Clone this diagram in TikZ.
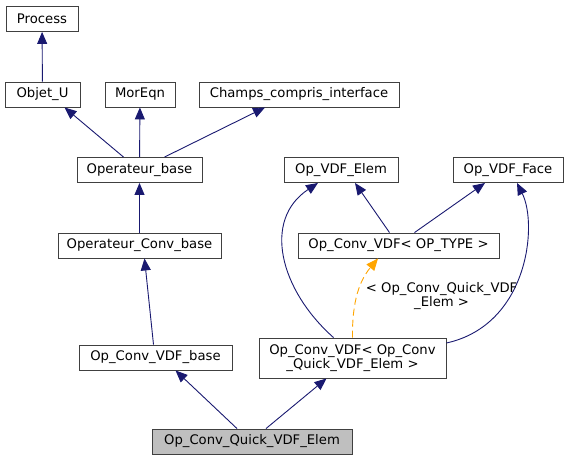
\documentclass[tikz,border=0pt]{standalone}
\usepackage{fontspec}
\setmainfont{DejaVu Sans}
\usetikzlibrary{arrows.meta}
\definecolor{navy}{HTML}{191970}
\definecolor{tplorange}{HTML}{FFA500}

\begin{document}
\begin{tikzpicture}[x=1pt, y=-1pt,
  cls/.style={draw=black!75, line width=0.9pt, fill=white, minimum height=25pt, inner sep=2pt,
    font=\fontsize{13.2}{14}\selectfont},
  tip/.style={-{Triangle[length=12pt,width=10pt]}},
  inh/.style={draw=navy, line width=0.9pt},
  tpl/.style={draw=tplorange, line width=0.9pt, dash pattern=on 7pt off 4pt}]
  \useasboundingbox (0,0) rectangle (569,460);
  \node[cls, minimum width=72pt]  (proc)   at (42,19)     {Process};
  \node[cls, minimum width=75pt]  (obj)    at (42.5,94.5) {Objet\_U};
  \node[cls, minimum width=70pt]  (mor)    at (140,94.5)  {MorEqn};
  \node[cls, minimum width=200pt] (champs) at (299,94.5)  {Champs\_compris\_interface};
  \node[cls, minimum width=125pt] (opb)    at (139.5,170) {Operateur\_base};
  \node[cls, minimum width=114pt] (velem)  at (341,170)   {Op\_VDF\_Elem};
  \node[cls, minimum width=110pt] (vface)  at (508,170)   {Op\_VDF\_Face};
  \node[cls, minimum width=163pt] (opc)    at (139.5,245.5) {Operateur\_Conv\_base};
  \node[cls, minimum width=201pt] (vtype)  at (398.5,245.5) {Op\_Conv\_VDF< OP\_TYPE >};
  \node[cls, minimum width=187pt, minimum height=40pt, align=center] (vq) at (352.5,358)
    {Op\_Conv\_VDF< Op\_Conv\\\_Quick\_VDF\_Elem >};
  \node[cls, minimum width=153pt] (vbase)  at (155.5,357.5) {Op\_Conv\_VDF\_base};
  \node[cls, minimum width=200pt, fill=black!25] (quick) at (252,441.5) {Op\_Conv\_Quick\_VDF\_Elem};

  \path[tip]
  (obj) edge[inh] (proc)
  ([xshift=-16pt]opb.north) edge[inh] ([xshift=22pt]obj.south)
  (opb) edge[inh] (mor)
  ([xshift=25pt]opb.north) edge[inh] ([xshift=-34pt]champs.south)
  (opc) edge[inh] (opb)
  ([xshift=-2pt]vbase.north) edge[inh] ([xshift=5pt]opc.south)
  ([xshift=-15pt]quick.north) edge[inh] ([xshift=20pt]vbase.south)
  ([xshift=14pt]quick.north) edge[inh] ([xshift=-26pt]vq.south)
  ([xshift=-9pt]vtype.north) edge[inh] ([xshift=14pt]velem.south)
  ([xshift=16pt]vtype.north) edge[inh] ([xshift=-23pt]vface.south);
  \draw[inh, tip] ([xshift=-19pt]vq.north) .. controls (280,290) and (262,220) .. ([xshift=-23pt]velem.south);
  \draw[inh, tip] ([yshift=15pt]vq.east) .. controls (528,325) and (538,225) .. ([xshift=9pt]vface.south);
  \draw[tpl, tip] (vq.north) .. controls (352,300) and (360,280) .. ([xshift=-20.5pt]vtype.south)
    node[pos=0.45, anchor=west, xshift=5pt, align=center, font=\fontsize{13.2}{14}\selectfont] (tlab)
    {< Op\_Conv\_Quick\_VDF\\\_Elem >};
\end{tikzpicture}
\end{document}
